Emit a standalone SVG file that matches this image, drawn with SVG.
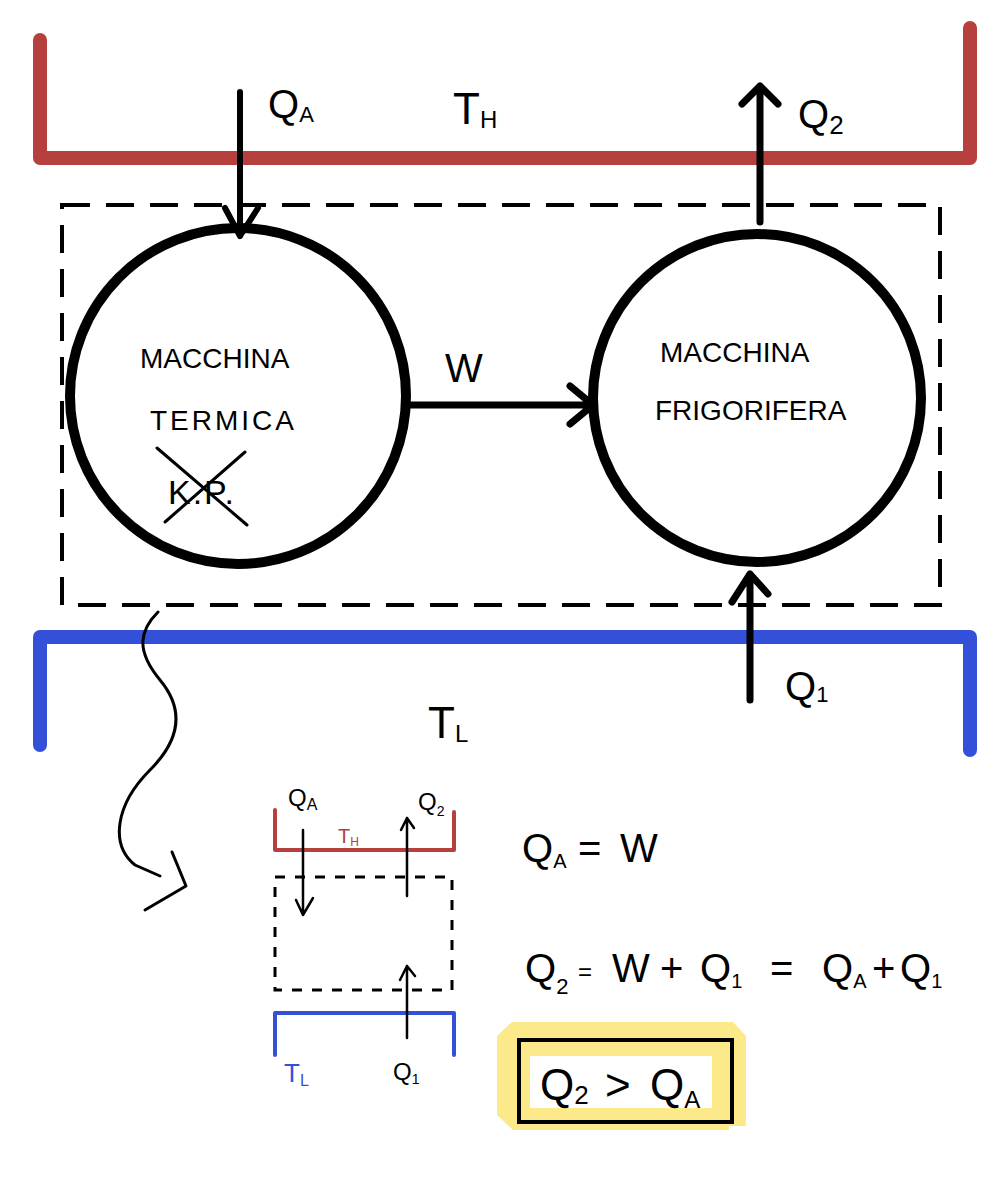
<svg xmlns="http://www.w3.org/2000/svg" width="996" height="1192" viewBox="0 0 996 1192">
<style>
.t{font-family:"Liberation Sans",Arial,sans-serif;fill:#000}
.hw{font-family:"Liberation Sans",Arial,sans-serif;fill:#000;font-size:28px}
.red{fill:none;stroke:#b5403e;stroke-linecap:round;stroke-linejoin:round}
.blue{fill:none;stroke:#3450d8;stroke-linecap:round;stroke-linejoin:round}
.dash{fill:none;stroke:#000;stroke-dasharray:28 16}
.ln{fill:none;stroke:#000;stroke-linecap:round;stroke-linejoin:round}
</style>
<rect width="996" height="1192" fill="#fff"/>
<g id="hot-reservoir">
<path class="red" stroke-width="14" d="M40 40 L40 158 L970 158 L970 28"/>
<text class="t" x="453" y="124" font-size="44">T<tspan font-size="24" dy="4">H</tspan></text>
</g>
<g id="cold-reservoir">
<path class="blue" stroke-width="14" d="M40 745 L40 637 L970 637 L970 750"/>
<text class="t" x="428" y="738" font-size="44">T<tspan font-size="24" dy="4">L</tspan></text>
</g>
<g id="system-boundary">
<rect class="dash" stroke-width="4" x="62" y="205" width="878" height="400"/>
</g>
<g id="heat-engine">
<circle cx="238" cy="396" r="168" fill="none" stroke="#000" stroke-width="10"/>
<text class="hw" x="140" y="368">MACCHINA</text>
<text class="hw" x="150" y="430" letter-spacing="3">TERMICA</text>
<text class="t" x="168" y="504" font-size="34" letter-spacing="2">K.P.</text>
<path class="ln" stroke-width="3" d="M157 448 L247 525 M245 452 L165 522"/>
</g>
<g id="refrigerator">
<circle cx="757" cy="398" r="164" fill="none" stroke="#000" stroke-width="10"/>
<text class="hw" x="660" y="362">MACCHINA</text>
<text class="hw" x="655" y="420">FRIGORIFERA</text>
</g>
<g id="connectors">
<path class="ln" stroke-width="6" d="M240 92 L240 236 M225 208 L240 236 L258 208"/>
<text class="t" x="268" y="118" font-size="40">Q<tspan font-size="22" dy="4">A</tspan></text>
<path class="ln" stroke-width="7" d="M410 405 L593 405 M570 386 L593 405 L570 424"/>
<text class="t" x="445" y="382" font-size="40">W</text>
<path class="ln" stroke-width="7" d="M760 222 L760 86 M742 104 L760 86 L778 104"/>
<text class="t" x="798" y="128" font-size="40">Q<tspan font-size="26" dy="6">2</tspan></text>
<path class="ln" stroke-width="7" d="M750 700 L750 574 M732 602 L750 574 L768 594"/>
<text class="t" x="785" y="700" font-size="40">Q<tspan font-size="22" dy="2">1</tspan></text>
<path class="ln" stroke-width="3" d="M158 612 C140 630 135 650 160 680 C185 710 180 740 150 770 C115 805 110 845 135 865 L160 876"/>
<path class="ln" stroke-width="3" d="M172 852 L186 886 L145 910"/>
</g>
<g id="mini-diagram">
<path class="red" stroke-width="4" d="M275 810 L275 850 L454 850 L454 812"/>
<path class="blue" stroke-width="4" d="M275 1055 L275 1013 L454 1013 L454 1055"/>
<rect x="275" y="877" width="177" height="113" fill="none" stroke="#000" stroke-width="3" stroke-dasharray="10 10"/>
<path class="ln" stroke-width="2.5" d="M303 830 L303 915 M296 900 L303 915 L313 898"/>
<path class="ln" stroke-width="2.5" d="M407 896 L407 818 M401 830 L407 818 L414 828"/>
<path class="ln" stroke-width="2.5" d="M407 1038 L407 966 M400 980 L407 966 L415 976"/>
<text class="t" x="288" y="806" font-size="24">Q<tspan font-size="16" dy="4">A</tspan></text>
<text class="t" x="338" y="843" font-size="20" style="fill:#b5403e">T<tspan font-size="12" dy="3">H</tspan></text>
<text class="t" x="418" y="810" font-size="24">Q<tspan font-size="14" dy="6">2</tspan></text>
<text class="t" x="284" y="1082" font-size="26" style="fill:#3450d8">T<tspan font-size="16" dy="4">L</tspan></text>
<text class="t" x="393" y="1080" font-size="24">Q<tspan font-size="14" dy="4">1</tspan></text>
</g>
<g id="equations">
<text class="t" x="522" y="862" font-size="40">Q<tspan font-size="20" dy="6">A</tspan><tspan dy="-6" x="578">=</tspan><tspan x="620">W</tspan></text>
<text class="t" x="525" y="982" font-size="40">Q<tspan font-size="22" dy="12">2</tspan><tspan font-size="24" dy="-14" x="578">=</tspan><tspan dy="2" x="612">W</tspan><tspan x="660">+</tspan><tspan x="700">Q</tspan><tspan font-size="20" dy="6">1</tspan><tspan dy="-6" x="770">=</tspan><tspan x="822">Q</tspan><tspan font-size="20" dy="6">A</tspan><tspan dy="-6" x="872">+</tspan><tspan x="900">Q</tspan><tspan font-size="20" dy="6">1</tspan></text>
</g>
<g id="result">
<path d="M512 1022 L733 1022 L746 1036 L746 1126 L729 1126 L729 1130 L513 1130 L497 1115 L497 1036 Z" fill="#fbe98a"/>
<rect x="519" y="1040" width="213" height="82" fill="none" stroke="#000" stroke-width="4"/>
<rect x="530" y="1056" width="182" height="52" fill="#fff"/>
<text class="t" x="540" y="1100" font-size="44">Q<tspan font-size="26" dy="4">2</tspan><tspan dy="-4" x="605">&gt;</tspan><tspan x="650">Q</tspan><tspan font-size="24" dy="8">A</tspan></text>
</g>
</svg>
